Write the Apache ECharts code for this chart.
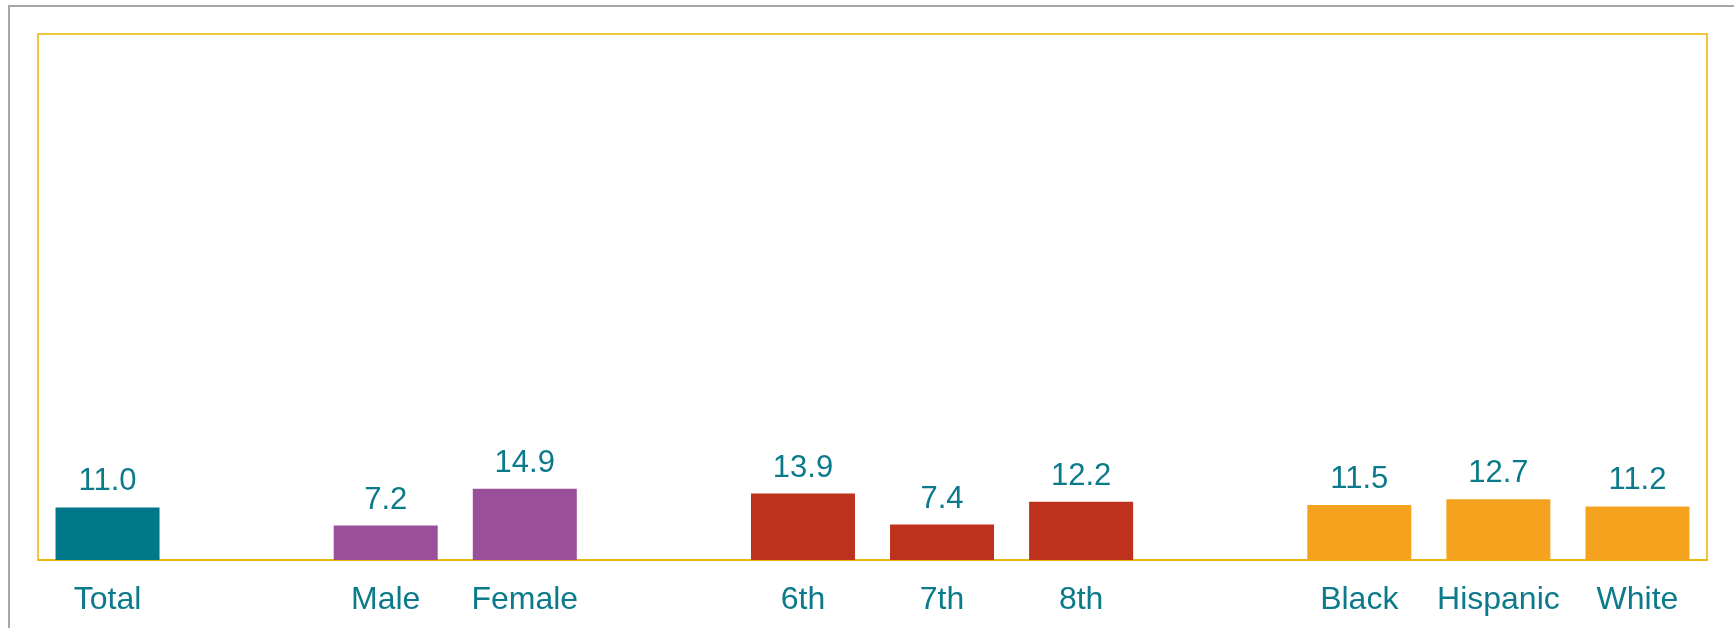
<!DOCTYPE html>
<html>
<head>
<meta charset="utf-8">
<script src="https://cdn.jsdelivr.net/npm/echarts@6/dist/echarts.min.js"></script>
<style>
  html, body { margin: 0; padding: 0; background: #fff; }
  #chart { width: 1734px; height: 628px; }
</style>
</head>
<body>
<div id="chart"></div>
<script>
// categories (empty ones are the gaps between groups)
var categories = ['Total', '', 'Male', 'Female', '', '6th', '7th', '8th', '', 'Black', 'Hispanic', 'White'];
var values = [11.0, '-', 7.2, 14.9, '-', 13.9, 7.4, 12.2, '-', 11.5, 12.7, 11.2];
var barColors = ['#00788A', null, '#9A4F9B', '#9A4F9B', null, '#BE311C', '#BE311C', '#BE311C', null, '#F5A31F', '#F5A31F', '#F5A31F'];

var textColor = '#0B7A8A';

var chart = echarts.init(document.getElementById('chart'));

var seriesData = values.map(function (v, i) {
    if (v === '-') return '-';
    return { value: v, itemStyle: { color: barColors[i] } };
});

var option = {
    animation: false,
    graphic: [{
        type: 'rect',
        shape: { x: 9, y: 6, width: 3000, height: 3000 },
        style: { fill: 'none', stroke: '#A6A6A6', lineWidth: 2 },
        silent: true
    }],
    grid: {
        left: 38,
        right: 27,
        top: 34,
        bottom: 68,
        show: true,
        borderColor: '#EDB200',
        borderWidth: 1.5
    },
    xAxis: {
        type: 'category',
        data: categories,
        axisLine: { show: true, lineStyle: { color: '#EDB200', width: 1.5 } },
        axisTick: { show: false },
        axisLabel: {
            interval: 0,
            color: textColor,
            fontFamily: 'Liberation Sans, Arial, sans-serif',
            fontSize: 32,
            margin: 24
        }
    },
    yAxis: {
        type: 'value',
        min: 0,
        max: 110,
        show: false,
        splitLine: { show: false }
    },
    series: [{
        type: 'bar',
        data: seriesData,
        barWidth: 104,
        label: {
            show: true,
            position: 'top',
            distance: 10,
            color: textColor,
            fontFamily: 'Liberation Sans, Arial, sans-serif',
            fontSize: 31,
            formatter: function (p) { return Number(p.value).toFixed(1); }
        }
    }]
};

chart.setOption(option);
</script>
</body>
</html>
